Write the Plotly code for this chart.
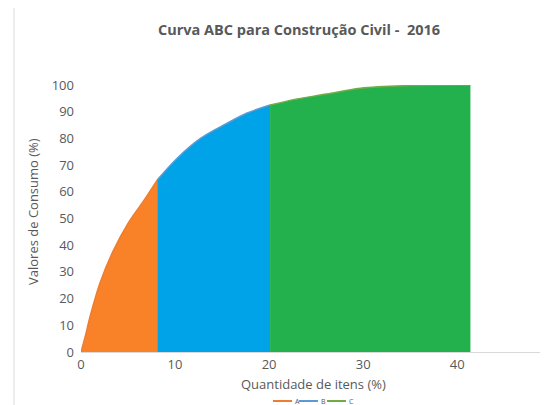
import plotly.graph_objects as go

# Data
a_x = [0, 0.5, 0.96, 2.0, 3.4, 5.0, 6.6, 8.1]
a_y = [0, 6.5, 13.2, 25.7, 37.7, 48.2, 56.3, 64.4]
b_x = [8.1, 10.2, 12.7, 15.5, 17.6, 20.1]
b_y = [64.4, 72.5, 80.0, 85.6, 89.4, 92.5]
c_x = [20.1, 23.0, 26.1, 29.7, 35.0, 41.4]
c_y = [92.5, 94.8, 96.6, 98.8, 99.8, 100.0]
series_names = ["A", "B", "C"]
x_ticks = [0, 10, 20, 30, 40]
y_ticks = [0, 10, 20, 30, 40, 50, 60, 70, 80, 90, 100]

fills = ["#F98128", "#00A2E8", "#22B14C"]
lines = ["#ED7D31", "#5B9BD5", "#70AD47"]

fig = go.Figure()
for xs, ys, fc, lc, nm in zip([a_x, b_x, c_x], [a_y, b_y, c_y], fills, lines, series_names):
    fig.add_trace(go.Scatter(x=xs, y=ys, mode="lines", fill="tozeroy", name=nm,
                             fillcolor=fc, line=dict(color=lc, width=1.5, shape="spline"),
                             showlegend=False, hoverinfo="skip"))

L, R, T, B = 81, 9, 85, 53
W, H = 549, 405
pw, ph = W - L - R, H - T - B

def px(x):
    return (x - L) / pw

def py(y):
    return (H - B - y) / ph

fig.update_layout(
    width=W, height=H,
    margin=dict(l=L, r=R, t=T, b=B, autoexpand=False),
    paper_bgcolor="white", plot_bgcolor="white",
    font=dict(family="Open Sans", color="#595959", size=13),
    title=dict(text="<b>Curva ABC para Construção Civil -  2016</b>",
               x=299 / W, xref="container", xanchor="center",
               y=1 - 30 / H, yref="container", yanchor="middle",
               font=dict(family="Open Sans", size=14.5, color="#595959")),
    xaxis=dict(range=[0, 48.8], tickvals=x_ticks, showgrid=False, zeroline=False,
               showline=True, linecolor="#D9D9D9", linewidth=1, ticks="",
               automargin=False, tickfont=dict(size=13, color="#595959")),
    yaxis=dict(range=[0, 100], tickvals=y_ticks, showgrid=False, zeroline=False,
               showline=False, ticks="", ticklabelstandoff=6, automargin=False,
               tickfont=dict(size=13, color="#595959")),
    showlegend=False,
)

# manual legend (small line swatches + labels)
legend_x0 = [273, 299, 327]
for name, lc, x0 in zip(series_names, lines, legend_x0):
    fig.add_shape(type="line", xref="paper", yref="paper",
                  x0=px(x0), x1=px(x0 + 19), y0=py(401), y1=py(401),
                  line=dict(color=lc, width=2))
    fig.add_annotation(text=name, xref="paper", yref="paper",
                       x=px(x0 + 19.5), y=py(401), showarrow=False,
                       xanchor="left", yanchor="middle",
                       font=dict(size=7, color="#595959"))

fig.add_annotation(text="Quantidade de itens (%)", xref="paper", yref="paper",
                   x=px(313), y=py(384), showarrow=False, xanchor="center", yanchor="middle",
                   font=dict(size=13, color="#595959"))
fig.add_annotation(text="Valores de Consumo (%)", xref="paper", yref="paper",
                   x=px(33), y=py(212), showarrow=False, textangle=-90,
                   xanchor="center", yanchor="middle",
                   font=dict(size=13, color="#595959"))
fig.add_shape(type="line", xref="paper", yref="paper",
              x0=px(14), x1=px(14), y0=py(8), y1=py(405),
              line=dict(color="#D9D9D9", width=1))

fig.write_html("out.html", config={"displayModeBar": False},
               post_script="document.body.style.margin='0';document.body.style.overflow='hidden';")
